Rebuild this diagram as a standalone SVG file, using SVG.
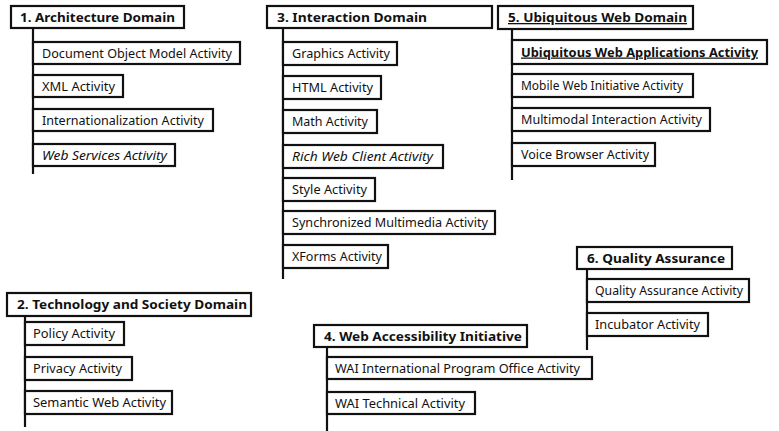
<svg xmlns="http://www.w3.org/2000/svg" width="779" height="431" viewBox="0 0 779 431">
  <style>
    .box { fill: #ffffff; stroke: #111111; stroke-width: 2.2; }
    .link { stroke: #111111; stroke-width: 2.2; fill: none; }
    .ht { font-family: "Noto Sans", "Open Sans", "Liberation Sans", sans-serif; font-size: 13px; font-weight: bold; fill: #111111; }
    .at { font-family: "Noto Sans", "Open Sans", "Liberation Sans", sans-serif; font-size: 12.5px; fill: #111111; }
    .it { font-style: italic; }
    .bd { font-weight: bold; }
    .ul { text-decoration: underline; }
  </style>
  <rect width="779" height="431" fill="#ffffff"/>

  <!-- vertical spines from each domain header down past its activities -->
  <g id="connectors">
    <line class="link" x1="33" y1="28" x2="33" y2="174"/>
    <line class="link" x1="283" y1="28" x2="283" y2="279"/>
    <line class="link" x1="512" y1="29" x2="512" y2="180"/>
    <line class="link" x1="25" y1="316" x2="25" y2="427"/>
    <line class="link" x1="327" y1="347" x2="327" y2="431"/>
    <line class="link" x1="587" y1="269" x2="587" y2="350"/>
  </g>

  <!-- 1. Architecture Domain -->
  <g id="d1">
    <rect class="box" x="11" y="6" width="173" height="22"/>
    <text class="ht" x="20" y="21.5" textLength="155" lengthAdjust="spacingAndGlyphs">1. Architecture Domain</text>
  </g>
  <g id="d1-dom">
    <rect class="box" x="33" y="42" width="207" height="22"/>
    <text class="at" x="42" y="57.5" textLength="190" lengthAdjust="spacingAndGlyphs">Document Object Model Activity</text>
  </g>
  <g id="d1-xml">
    <rect class="box" x="33" y="75" width="90" height="22"/>
    <text class="at" x="42" y="90.5" textLength="73" lengthAdjust="spacingAndGlyphs">XML Activity</text>
  </g>
  <g id="d1-i18n">
    <rect class="box" x="33" y="109" width="180" height="22"/>
    <text class="at" x="42" y="124.5" textLength="162" lengthAdjust="spacingAndGlyphs">Internationalization Activity</text>
  </g>
  <g id="d1-ws">
    <rect class="box" x="33" y="144" width="142" height="22"/>
    <text class="at it" x="42" y="159.5" textLength="125" lengthAdjust="spacingAndGlyphs">Web Services Activity</text>
  </g>

  <!-- 3. Interaction Domain -->
  <g id="d3">
    <rect class="box" x="267" y="6" width="225" height="22"/>
    <text class="ht" x="277" y="21.5" textLength="150" lengthAdjust="spacingAndGlyphs">3. Interaction Domain</text>
  </g>
  <g id="d3-graphics">
    <rect class="box" x="283" y="42" width="114" height="23"/>
    <text class="at" x="292" y="58" textLength="98" lengthAdjust="spacingAndGlyphs">Graphics Activity</text>
  </g>
  <g id="d3-html">
    <rect class="box" x="283" y="76" width="98" height="23"/>
    <text class="at" x="292" y="92" textLength="81" lengthAdjust="spacingAndGlyphs">HTML Activity</text>
  </g>
  <g id="d3-math">
    <rect class="box" x="283" y="110" width="94" height="23"/>
    <text class="at" x="292" y="126" textLength="76" lengthAdjust="spacingAndGlyphs">Math Activity</text>
  </g>
  <g id="d3-rwc">
    <rect class="box" x="283" y="145" width="160" height="23"/>
    <text class="at it" x="292" y="161" textLength="141" lengthAdjust="spacingAndGlyphs">Rich Web Client Activity</text>
  </g>
  <g id="d3-style">
    <rect class="box" x="283" y="178" width="92" height="23"/>
    <text class="at" x="292" y="194" textLength="75" lengthAdjust="spacingAndGlyphs">Style Activity</text>
  </g>
  <g id="d3-smil">
    <rect class="box" x="283" y="211" width="212" height="23"/>
    <text class="at" x="292" y="227" textLength="196" lengthAdjust="spacingAndGlyphs">Synchronized Multimedia Activity</text>
  </g>
  <g id="d3-xforms">
    <rect class="box" x="283" y="245" width="105" height="23"/>
    <text class="at" x="292" y="261" textLength="90" lengthAdjust="spacingAndGlyphs">XForms Activity</text>
  </g>

  <!-- 5. Ubiquitous Web Domain -->
  <g id="d5">
    <rect class="box" x="498" y="6" width="195" height="23"/>
    <text class="ht ul" x="508" y="22" textLength="179" lengthAdjust="spacingAndGlyphs">5. Ubiquitous Web Domain</text>
  </g>
  <g id="d5-uwa">
    <rect class="box" x="512" y="40" width="255" height="24"/>
    <text class="at bd ul" x="521" y="56.5" textLength="237" lengthAdjust="spacingAndGlyphs">Ubiquitous Web Applications Activity</text>
  </g>
  <g id="d5-mwi">
    <rect class="box" x="512" y="74" width="181" height="23"/>
    <text class="at" x="521" y="90" textLength="162" lengthAdjust="spacingAndGlyphs">Mobile Web Initiative Activity</text>
  </g>
  <g id="d5-mmi">
    <rect class="box" x="512" y="108" width="198" height="23"/>
    <text class="at" x="521" y="124" textLength="181" lengthAdjust="spacingAndGlyphs">Multimodal Interaction Activity</text>
  </g>
  <g id="d5-voice">
    <rect class="box" x="512" y="143" width="143" height="23"/>
    <text class="at" x="521" y="159" textLength="128" lengthAdjust="spacingAndGlyphs">Voice Browser Activity</text>
  </g>

  <!-- 2. Technology and Society Domain -->
  <g id="d2">
    <rect class="box" x="7" y="293" width="244" height="23"/>
    <text class="ht" x="17" y="309" textLength="230" lengthAdjust="spacingAndGlyphs">2. Technology and Society Domain</text>
  </g>
  <g id="d2-policy">
    <rect class="box" x="25" y="322" width="99" height="23"/>
    <text class="at" x="33" y="338" textLength="82" lengthAdjust="spacingAndGlyphs">Policy Activity</text>
  </g>
  <g id="d2-privacy">
    <rect class="box" x="25" y="357" width="107" height="23"/>
    <text class="at" x="33" y="373" textLength="89" lengthAdjust="spacingAndGlyphs">Privacy Activity</text>
  </g>
  <g id="d2-semweb">
    <rect class="box" x="25" y="391" width="147" height="23"/>
    <text class="at" x="33" y="407" textLength="133" lengthAdjust="spacingAndGlyphs">Semantic Web Activity</text>
  </g>

  <!-- 4. Web Accessibility Initiative -->
  <g id="d4">
    <rect class="box" x="314" y="325" width="213" height="22"/>
    <text class="ht" x="324" y="340.5" textLength="198" lengthAdjust="spacingAndGlyphs">4. Web Accessibility Initiative</text>
  </g>
  <g id="d4-ipo">
    <rect class="box" x="327" y="357" width="265" height="22"/>
    <text class="at" x="335" y="372.5" textLength="245" lengthAdjust="spacingAndGlyphs">WAI International Program Office Activity</text>
  </g>
  <g id="d4-tech">
    <rect class="box" x="327" y="392" width="148" height="22"/>
    <text class="at" x="335" y="407.5" textLength="130" lengthAdjust="spacingAndGlyphs">WAI Technical Activity</text>
  </g>

  <!-- 6. Quality Assurance -->
  <g id="d6">
    <rect class="box" x="577" y="247" width="155" height="22"/>
    <text class="ht" x="587" y="262.5" textLength="138" lengthAdjust="spacingAndGlyphs">6. Quality Assurance</text>
  </g>
  <g id="d6-qa">
    <rect class="box" x="587" y="279" width="162" height="23"/>
    <text class="at" x="595" y="295" textLength="148" lengthAdjust="spacingAndGlyphs">Quality Assurance Activity</text>
  </g>
  <g id="d6-incubator">
    <rect class="box" x="587" y="313" width="121" height="23"/>
    <text class="at" x="595" y="329" textLength="105" lengthAdjust="spacingAndGlyphs">Incubator Activity</text>
  </g>
</svg>
